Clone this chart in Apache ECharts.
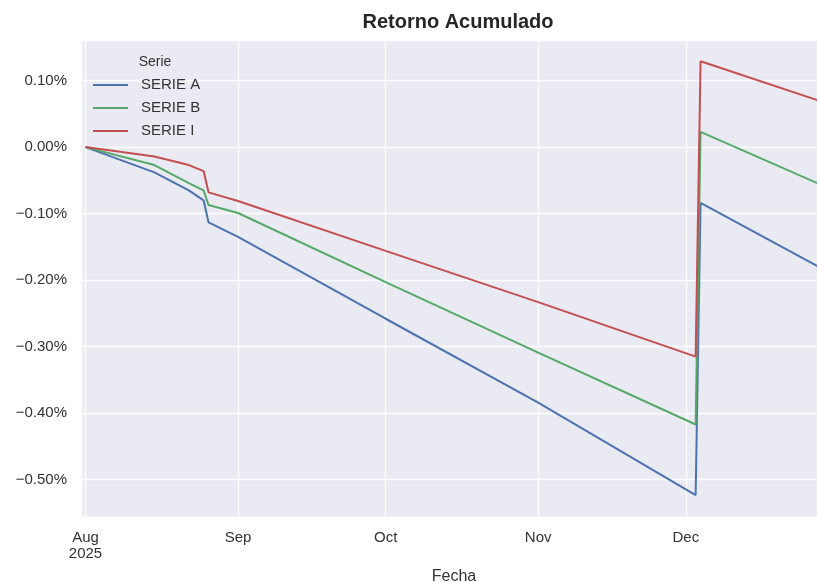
<!DOCTYPE html>
<html>
<head>
<meta charset="utf-8">
<script src="https://cdn.jsdelivr.net/npm/echarts@6/dist/echarts.min.js"></script>
<style>
html,body{margin:0;padding:0;background:#fff;overflow:hidden;}
#c{width:817px;height:582px;}
</style>
</head>
<body>
<div id="c"></div>
<script>
// Data (values in percent)
const dates   = ['2025-08-01','2025-08-15','2025-08-22','2025-08-25','2025-08-26','2025-09-01','2025-10-01','2025-11-01','2025-12-03','2025-12-04','2025-12-28'];
const serieA  = [0, -0.038, -0.065, -0.080, -0.113, -0.135, -0.258, -0.384, -0.523, -0.084, -0.180];
const serieB  = [0, -0.027, -0.054, -0.065, -0.087, -0.099, -0.203, -0.309, -0.417,  0.023, -0.055];
const serieI  = [0, -0.014, -0.027, -0.036, -0.068, -0.081, -0.156, -0.233, -0.315,  0.129,  0.070];
const seriesNames = ['SERIE A','SERIE B','SERIE I'];
const monthNames = ['Jan','Feb','Mar','Apr','May','Jun','Jul','Aug','Sep','Oct','Nov','Dec'];

const toTs = s => Date.parse(s + 'T00:00:00Z');
const pairs = vals => dates.map((d, i) => [toTs(d), vals[i]]);

const FONT = 'Liberation Sans';
const colors = ['#4C72B0', '#55A868', '#C44E52'];

const chart = echarts.init(document.getElementById('c'));
chart.setOption({
  useUTC: true,
  animation: false,
  backgroundColor: '#ffffff',
  color: colors,
  title: [
    { text: 'Retorno Acumulado', left: 453, top: 7, textAlign: 'center',
      textStyle: { fontFamily: FONT, fontSize: 20, fontWeight: 'bold', color: '#262626' } },
    { text: 'Serie', left: 150, top: 50, textAlign: 'center',
      textStyle: { fontFamily: FONT, fontSize: 14, fontWeight: 'normal', color: '#333' } }
  ],
  legend: {
    orient: 'vertical', left: 88, top: 72,
    icon: 'rect', itemWidth: 35, itemHeight: 2, itemGap: 7,
    textStyle: { fontFamily: FONT, fontSize: 15, color: '#333', lineHeight: 16, padding: [0,0,0,8] },
    data: seriesNames
  },
  grid: { left: 81, right: -10, top: 40, bottom: 65, show: true, backgroundColor: '#EAEAF2', borderWidth: 0,
          containLabel: false, outerBoundsMode: 'none' },
  xAxis: {
    type: 'time',
    min: Date.parse('2025-07-31T02:00:00Z'),
    max: Date.parse('2025-12-29T16:45:00Z'),
    name: 'Fecha', nameLocation: 'middle', nameGap: 52,
    nameTextStyle: { fontFamily: FONT, fontSize: 16, color: '#333' },
    axisLine: { show: false }, axisTick: { show: false },
    splitLine: { show: true, lineStyle: { color: '#ffffff', width: 1.3 } },
    axisLabel: {
      fontFamily: FONT, fontSize: 15, color: '#333', margin: 13, lineHeight: 16,
      showMinLabel: false, showMaxLabel: false, hideOverlap: false,
      formatter: function (v) {
        const d = new Date(v);
        if (d.getUTCDate() !== 1 || d.getUTCHours() !== 0) return '';
        const m = monthNames[d.getUTCMonth()];
        return d.getUTCMonth() === 7 ? m + '\n' + d.getUTCFullYear() : m;
      }
    }
  },
  yAxis: {
    type: 'value',
    min: -0.556, max: 0.161,
    minInterval: 0.1, maxInterval: 0.1,
    axisLine: { show: false }, axisTick: { show: false },
    splitLine: { show: true, lineStyle: { color: '#ffffff', width: 1.3 } },
    axisLabel: {
      fontFamily: FONT, fontSize: 15, color: '#333', margin: 14,
      showMinLabel: false, showMaxLabel: false,
      formatter: v => (v < 0 ? '\u2212' + Math.abs(v).toFixed(2) : v.toFixed(2)) + '%'
    }
  },
  series: [
    { name: seriesNames[0], type: 'line', data: pairs(serieA), symbol: 'none', lineStyle: { width: 2 } },
    { name: seriesNames[1], type: 'line', data: pairs(serieB), symbol: 'none', lineStyle: { width: 2 } },
    { name: seriesNames[2], type: 'line', data: pairs(serieI), symbol: 'none', lineStyle: { width: 2 } }
  ]
});
</script>
</body>
</html>
